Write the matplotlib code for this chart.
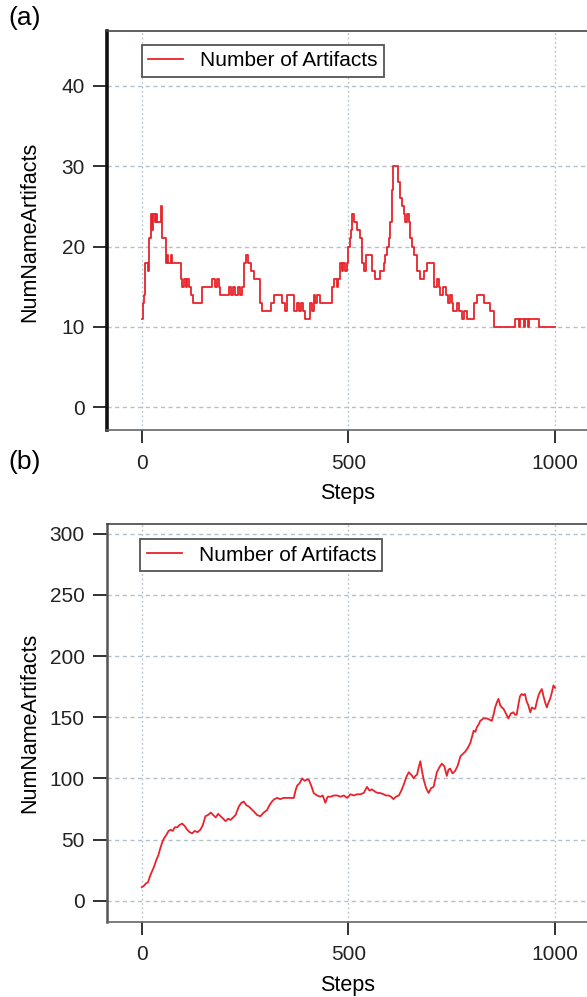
import matplotlib.pyplot as plt

plt.rcParams['font.family'] = ['Liberation Sans', 'DejaVu Sans']

# panel (a): number of artifacts, stepwise
steps_a = [0, 3, 6, 9, 14, 17, 22, 26, 28, 32, 34, 36, 46, 48, 50, 54, 58, 62, 64, 70,
           74, 94, 98, 102, 106, 110, 114, 118, 124, 146, 170, 178, 182, 186, 190, 211,
           217, 221, 225, 233, 238, 243, 247, 252, 258, 264, 272, 287, 291, 312, 320,
           340, 346, 352, 368, 375, 380, 386, 390, 394, 406, 412, 416, 420, 424, 432,
           460, 466, 472, 476, 480, 484, 488, 492, 497, 500, 503, 506, 509, 514, 520,
           528, 534, 537, 543, 557, 565, 577, 585, 589, 593, 597, 600, 605, 609, 621,
           626, 630, 634, 638, 642, 646, 650, 654, 658, 665, 674, 682, 690, 706, 714,
           718, 722, 730, 735, 742, 746, 750, 754, 763, 767, 775, 780, 786, 803, 811,
           827, 843, 851, 903, 912, 915, 925, 928, 935, 938, 960, 1000]
values_a = [11, 13, 14, 18, 17, 21, 24, 22, 24, 23, 24, 23, 25, 23, 21, 21, 18, 19, 18, 19,
            18, 16, 15, 16, 15, 16, 15, 14, 13, 15, 16, 15, 16, 15, 14, 15,
            14, 15, 14, 15, 14, 15, 18, 19, 18, 17, 16, 13, 12, 13, 14,
            13, 12, 14, 12, 13, 12, 13, 12, 11, 13, 12, 14, 13, 14, 13,
            15, 16, 15, 16, 18, 17, 18, 17, 18, 20, 21, 22, 24, 23, 22,
            21, 18, 17, 19, 17, 16, 17, 18, 19, 20, 21, 23, 27, 30, 28,
            26, 25, 24, 23, 24, 23, 21, 20, 19, 17, 16, 17, 18, 15, 16,
            15, 14, 15, 14, 13, 14, 13, 12, 13, 12, 11, 12, 11, 13, 14,
            13, 12, 10, 11, 10, 11, 10, 11, 10, 11, 10, 10]

# panel (b): number of artifacts, growing
steps_b = [0, 5, 10, 15, 20, 25, 30, 35, 40, 46, 50, 54, 60, 65, 70, 75, 80, 86, 92, 98,
           104, 110, 116, 122, 128, 135, 142, 148, 154, 160, 167, 173, 179, 185, 191,
           197, 203, 209, 215, 221, 227, 235, 241, 247, 253, 259, 265, 271, 279, 287,
           295, 303, 309, 315, 321, 328, 335, 343, 350, 358, 368, 372, 376, 382, 388,
           394, 400, 404, 410, 416, 424, 432, 438, 444, 450, 457, 465, 473, 481, 489,
           497, 505, 513, 521, 529, 537, 545, 551, 557, 565, 571, 577, 585, 591, 597,
           603, 609, 615, 622, 628, 634, 640, 646, 652, 658, 662, 666, 670, 674, 678,
           682, 688, 694, 700, 706, 710, 714, 720, 726, 732, 738, 742, 746, 752, 758,
           764, 771, 777, 783, 789, 795, 799, 803, 807, 811, 815, 819, 827, 835, 841,
           847, 851, 855, 859, 863, 867, 871, 875, 881, 887, 893, 899, 903, 907, 911,
           915, 919, 923, 927, 931, 935, 940, 944, 948, 952, 956, 960, 964, 968, 972,
           976, 980, 984, 988, 992, 996, 1000]
values_b = [11, 12, 14, 15, 20, 24, 28, 33, 37, 44, 48, 51, 54, 57, 58, 57, 60, 60, 62, 63,
            61, 58, 56, 55, 57, 56, 58, 62, 69, 70, 72, 70, 68, 71, 69,
            67, 65, 67, 66, 68, 70, 77, 80, 81, 78, 77, 75, 73, 70, 69,
            72, 74, 78, 81, 83, 84, 83, 84, 84, 84, 84, 90, 94, 96, 100,
            98, 99, 99, 94, 88, 86, 85, 86, 80, 85, 85, 86, 86, 85, 86,
            84, 87, 86, 87, 87, 88, 93, 90, 91, 89, 88, 88, 87, 86, 86,
            85, 83, 85, 86, 90, 95, 101, 105, 103, 100, 102, 103, 109, 114, 106,
            99, 92, 88, 92, 93, 99, 105, 109, 112, 110, 102, 107, 108, 104, 106,
            110, 118, 120, 122, 125, 129, 134, 139, 138, 142, 144, 147, 149, 149, 148,
            147, 152, 158, 162, 165, 160, 158, 157, 153, 149, 153, 154, 152, 152, 160,
            167, 169, 168, 169, 163, 160, 154, 158, 157, 157, 163, 168, 171, 173, 167,
            162, 158, 162, 165, 170, 176, 174]

x_ticks = [0, 500, 1000]
yticks_a = [0, 10, 20, 30, 40]
yticks_b = [0, 50, 100, 150, 200, 250, 300]

red = '#e8232b'
grid_col = '#b3bfcb'

fig = plt.figure(figsize=(5.87, 9.97), dpi=100)
W, H = 587, 997


def make_axes(top, bottom):
    return fig.add_axes([107 / W, 1 - bottom / H, 513 / W, (bottom - top) / H])


def style(ax, yticks, ylim, left_lw, left_col):
    ax.set_xlim(-84, 1157)
    ax.set_ylim(*ylim)
    ax.set_xticks(x_ticks)
    ax.set_yticks(yticks)
    for y in yticks:
        ax.axhline(y, color=grid_col, lw=1.0, dashes=(3, 2.5), zorder=0)
    for x in x_ticks:
        ax.axvline(x, color=grid_col, lw=1.0, dashes=(1.2, 2), zorder=0)
    ax.spines['right'].set_visible(False)
    ax.spines['top'].set_color('#444444')
    ax.spines['top'].set_linewidth(1.2)
    ax.spines['bottom'].set_color('#666666')
    ax.spines['bottom'].set_linewidth(1.2)
    ax.spines['left'].set_color(left_col)
    ax.spines['left'].set_linewidth(left_lw)
    ax.tick_params(axis='y', direction='out', length=10, width=1.3, pad=6,
                   labelsize=15, colors='#222222')
    ax.tick_params(axis='x', direction='out', length=9, width=1.3, pad=8,
                   labelsize=15, colors='#222222')


def add_legend(ax, ax_x, ax_y):
    leg = ax.legend(loc='upper left', bbox_to_anchor=(ax_x, ax_y), borderaxespad=0,
                    fontsize=15, fancybox=False, framealpha=1, handlelength=1.7,
                    borderpad=0.3, handletextpad=0.8)
    leg.get_frame().set_edgecolor('#555555')
    leg.get_frame().set_linewidth(1.3)


# (a)
ax1 = make_axes(30.7, 430)
ax1.plot(steps_a, values_a, color=red, lw=1.3, drawstyle='steps-post',
         label='Number of Artifacts')
style(ax1, yticks_a, (-2.82, 46.84), 2.6, '#111111')
add_legend(ax1, 0.0676, 0.964)

# (b)
ax2 = make_axes(524.3, 921.7)
ax2.plot(steps_b, values_b, color=red, lw=1.3, label='Number of Artifacts')
style(ax2, yticks_b, (-17.2, 307.7), 1.8, '#555555')
add_legend(ax2, 0.065, 0.962)

# labels
fig.text(8 / W, 1 - 18 / H, '(a)', fontsize=19, va='center', ha='left')
fig.text(8 / W, 1 - 462 / H, '(b)', fontsize=19, va='center', ha='left')
fig.text(30 / W, 1 - 232 / H, 'NumNameArtifacts', fontsize=15.5, rotation=90,
         va='center', ha='center')
fig.text(30 / W, 1 - 723 / H, 'NumNameArtifacts', fontsize=15.5, rotation=90,
         va='center', ha='center')
fig.text(348 / W, 1 - 493 / H, 'Steps', fontsize=15.5, va='center', ha='center')
fig.text(348 / W, 1 - 985 / H, 'Steps', fontsize=15.5, va='center', ha='center')

fig.savefig('out.png', dpi=100)
